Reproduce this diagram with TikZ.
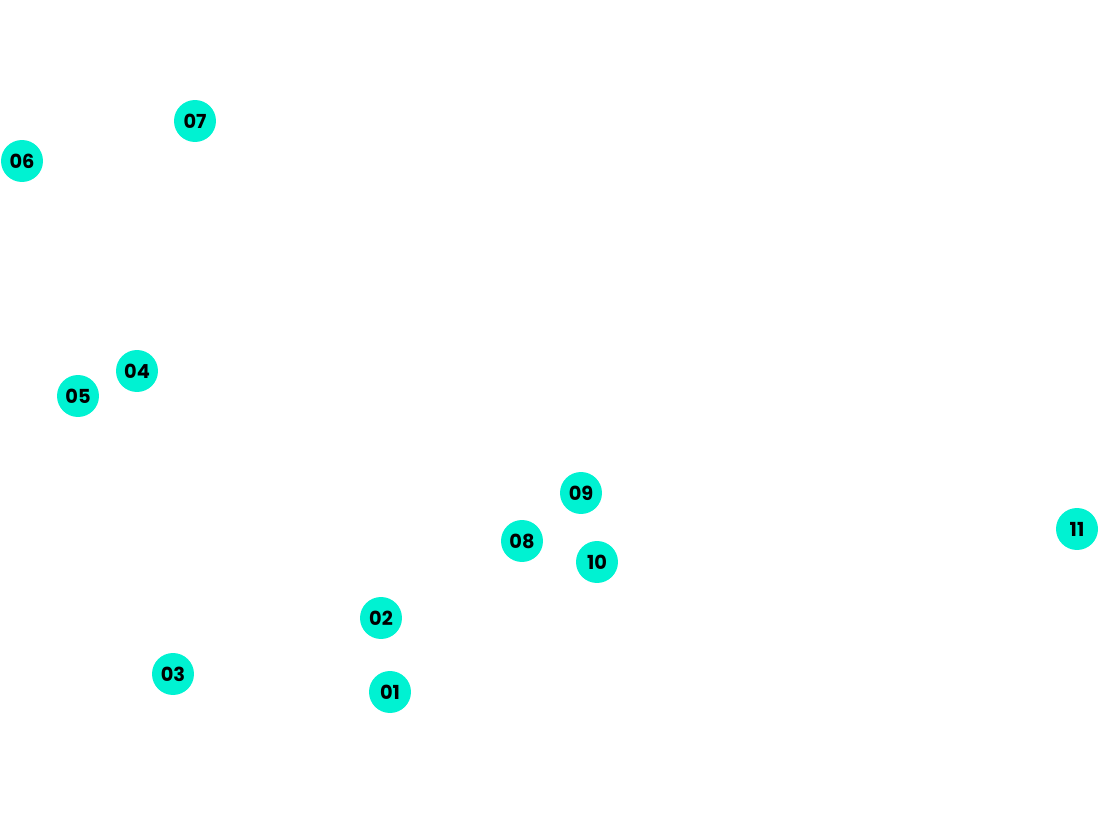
\documentclass[tikz,border=0pt]{standalone}
\usepackage{fontspec}
\setmainfont{Poppins}
\definecolor{dotcol}{HTML}{00F2D2}
\tikzset{
  dot/.style={circle, fill=dotcol, minimum size=0.84cm, inner sep=0pt,
    font=\fontsize{11}{12}\selectfont\bfseries, text=black}
}
\begin{document}
\begin{tikzpicture}[x=0.02cm, y=-0.02cm]
    \useasboundingbox (0,0) rectangle (1100,818);
    \node[dot] (n01) at (390,692) {01};
    \node[dot] (n02) at (381,618) {02};
    \node[dot] (n03) at (173,674) {03};
    \node[dot] (n04) at (137,371) {04};
    \node[dot] (n05) at (78,396) {05};
    \node[dot] (n06) at (22,161) {06};
    \node[dot] (n07) at (195,121) {07};
    \node[dot] (n08) at (522,541) {08};
    \node[dot] (n09) at (581,493) {09};
    \node[dot] (n10) at (597,562) {10};
    \node[dot] (n11) at (1077,529) {11};
\end{tikzpicture}
\end{document}
